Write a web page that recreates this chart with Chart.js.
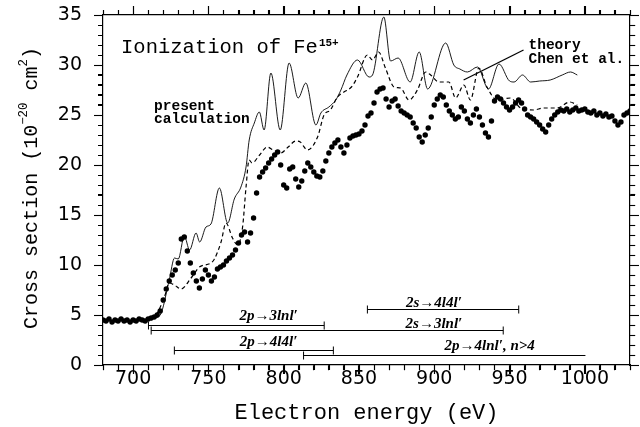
<!DOCTYPE html>
<html>
<head>
<meta charset="utf-8">
<title>Ionization of Fe15+</title>
<script src="https://cdn.jsdelivr.net/npm/chart.js"></script>
<style>
  body { margin: 0; background: #fff; }
  .wrap { width: 640px; height: 427px; position: relative; }
</style>
</head>
<body>
<div class="wrap"><canvas id="ion"></canvas></div>
<script>
// experiment (dots), every 2 eV
const expEnergy = [
  680,682,684,686,688,690,692,694,696,698,
  700,702,704,706,708,710,712,714,716,718,
  720,722,724,726,728,730,732,734,736,738,
  740,742,744,746,748,750,752,754,756,758,
  760,762,764,766,768,770,772,774,776,778,
  780,782,784,786,788,790,792,794,796,798,
  800,802,804,806,808,810,812,814,816,818,
  820,822,824,826,828,830,832,834,836,838,
  840,842,844,846,848,850,852,854,856,858,
  860,862,864,866,868,870,872,874,876,878,
  880,882,884,886,888,890,892,894,896,898,
  900,902,904,906,908,910,912,914,916,918,
  920,922,924,926,928,930,932,934,936,938,
  940,942,944,946,948,950,952,954,956,958,
  960,962,964,966,968,970,972,974,976,978,
  980,982,984,986,988,990,992,994,996,998,
  1000,1002,1004,1006,1008,1010,1012,1014,1016,1018,
  1020,1022,1024,1026,1028,1030
];
const expSigma = [
  4.5,4.4,4.6,4.3,4.5,4.4,4.6,4.4,4.5,4.3,
  4.5,4.4,4.6,4.5,4.4,4.6,4.7,4.8,5.0,5.4,
  6.5,7.6,8.4,9.0,9.5,10.2,12.6,12.8,11.4,10.2,
  9.2,8.4,7.7,8.6,9.5,9.0,8.4,8.8,9.6,9.8,
  10.0,10.4,10.7,11.0,11.5,12.2,13.0,13.3,12.3,13.2,
  14.7,17.2,18.8,19.3,19.7,20.2,20.6,21.0,21.3,20.0,
  18.0,17.7,19.6,19.8,18.6,17.8,18.4,19.4,20.2,19.8,
  19.3,18.9,18.8,19.4,20.4,21.2,21.8,22.2,22.5,21.8,
  21.2,22.0,22.7,22.9,23.0,23.1,23.4,24.0,24.9,25.2,
  26.2,27.3,27.6,27.7,26.6,25.8,26.4,26.6,25.9,25.4,
  25.2,25.0,24.8,24.2,23.7,22.8,22.3,23.0,23.7,24.8,
  26.0,26.6,27.0,26.8,26.0,25.4,25.0,24.6,24.8,25.8,
  25.4,24.6,24.2,25.0,25.6,24.8,24.0,23.2,22.8,24.4,
  26.4,26.8,26.6,26.2,25.8,25.5,25.8,26.2,26.5,26.2,
  25.6,25.0,24.8,24.6,24.3,24.0,23.6,23.3,24.0,24.6,
  25.0,25.3,25.5,25.4,25.6,25.3,25.5,25.7,25.4,25.5,
  25.6,25.3,25.2,25.4,25.0,25.2,24.9,25.1,24.8,24.9,
  24.4,24.0,24.3,25.0,25.2,25.4
];

// present calculation (solid)
const calcEnergy = [712,714,718,724,727.5,730,734,737.5,741.8,744.2,748.4,751.7,757.3,762.8,767.2,771.6,775,777.1,780.5,783.8,787,791.5,797.7,803.6,809.6,814.7,821.4,824.7,830,834.6,838,842,849,856.7,859,866.5,871,876,884,890,895.6,907.6,913,917,922,928.7,936,943,950,953,958.6,964,970,977,985,990.5,995];
const calcSigma  = [4.6,4.7,5.0,8.5,10.7,10.6,12.9,11.5,13.2,12.3,13.8,14.1,17.7,14.2,16.6,17.8,19.8,22.5,24.2,25.3,23.5,29.2,23.5,30.2,26.7,28.2,24.0,25.2,25.8,26.5,27.5,29.0,30.5,28.8,29.0,34.8,30.4,30.7,28.3,31.3,27.6,32.2,30.0,29.6,29.3,29.8,27.6,30.1,28.4,28.3,29.0,28.3,28.4,28.5,29.0,29.3,29.0];

// theory Chen et al. (dashed)
const chenEnergy = [712,716,720.8,724,727.4,731.8,738.5,744,751.7,754,758.4,761.7,766,769.4,772.7,775,777,779,784,789,793,798,803,808,811,815.8,822.5,826.8,831,835.7,840,845,849,855.6,859,863,867.8,873.3,877.7,883.2,888.8,894.3,897.6,903,909.7,914.2,919.7,924,929.6,935,941.8,950.7,957.3,966,972.7,981.6,990,995];
const chenSigma  = [4.5,5.2,6.8,8.2,8.0,7.6,8.7,9.8,10.2,10.6,12.3,14.2,12.7,12.0,13.8,17.8,20.5,20.2,21.0,21.8,21.5,21.2,21.8,22.4,22.3,21.5,22.8,25.0,25.5,26.8,27.3,27.8,28.8,31.0,30.5,31.3,29.6,27.8,27.7,26.5,27.5,29.3,29.0,28.3,28.3,26.7,28.0,26.5,29.7,27.8,26.5,26.7,25.7,25.5,25.7,25.7,26.3,26.0];

// threshold bands at the bottom
const bandNames = ['2p→3lnl′', '2s→3lnl′', '2s→4l4l′', '2p→4l4l′', '2p→4lnl′, n>4'];
const bandFrom  = [710.2, 712, 855.6, 727.4, 813.2];
const bandTo    = [826.9, 945.8, 956.1, 833, 1000.4];
const bandLevel = [4.0, 3.5, 5.6, 1.5, 1.0];
const bandTextE = [790, 899.8, 899.8, 790, 936.8];
const bandTextS = [4.5, 3.75, 5.8, 1.9, 1.5];
const bandEndMark = [true, true, true, true, false];

const xTicksMajor = 50, yTicksMajor = 5;

const pts = (xs, ys) => xs.map((v, i) => ({ x: v, y: ys[i] }));

// superscripted text, drawn left to right from (x, y)
function richText(ctx, parts, x, y, size, family) {
  let cx = x;
  parts.forEach(([t, sup]) => {
    ctx.font = (sup ? size * 0.62 : size) + 'px ' + family;
    ctx.fillText(t, cx, sup ? y - size * 0.42 : y);
    cx += ctx.measureText(t).width;
  });
  return cx - x;
}

// outward tick marks on all four sides, long on the labelled values
function drawTicks(chart) {
  const { ctx, chartArea: a, scales } = chart;
  ctx.save();
  ctx.setLineDash([]);
  ctx.strokeStyle = '#000';
  ctx.lineWidth = 1.1;
  ctx.beginPath();
  ['x', 'x2'].forEach(id => {
    const s = scales[id];
    const y0 = id === 'x' ? a.bottom : a.top;
    const dir = id === 'x' ? 1 : -1;
    s.ticks.forEach(t => {
      const len = t.value % xTicksMajor === 0 ? 9 : 5;
      const p = Math.round(s.getPixelForValue(t.value)) + 0.5;
      ctx.moveTo(p, y0); ctx.lineTo(p, y0 + dir * len);
    });
  });
  ['y', 'y2'].forEach(id => {
    const s = scales[id];
    const x0 = id === 'y' ? a.left : a.right;
    const dir = id === 'y' ? -1 : 1;
    s.ticks.forEach(t => {
      const len = t.value % yTicksMajor === 0 ? 9 : 5;
      const p = Math.round(s.getPixelForValue(t.value)) + 0.5;
      ctx.moveTo(x0, p); ctx.lineTo(x0 + dir * len, p);
    });
  });
  ctx.stroke();
  ctx.restore();
}

const annotate = {
  id: 'annotate',
  afterDatasetsDraw(chart) {
    const { ctx, scales: { x, y } } = chart;
    const px = v => x.getPixelForValue(v);
    const py = v => y.getPixelForValue(v);
    ctx.save();
    ctx.fillStyle = '#000';
    ctx.strokeStyle = '#000';
    ctx.textBaseline = 'alphabetic';

    // title
    ctx.textAlign = 'left';
    ctx.font = '20.5px "Liberation Mono", monospace';
    ctx.fillText('Ionization of Fe', px(692), py(31.2));
    const w = ctx.measureText('Ionization of Fe').width;
    ctx.font = 'bold 11px "Liberation Mono", monospace';
    ctx.fillText('15+', px(692) + w + 1, py(31.9));

    // curve labels
    ctx.font = 'bold 14.5px "Liberation Mono", monospace';
    ctx.fillText('present', px(713.9), py(25.5));
    ctx.fillText('calculation', px(713.9), py(24.2));
    ctx.fillText('theory', px(962.6), py(31.6));
    ctx.fillText('Chen et al.', px(962.6), py(30.2));
    ctx.lineWidth = 1.3;
    ctx.beginPath();
    ctx.moveTo(px(919.5), py(28.5));
    ctx.lineTo(px(959.3), py(31.5));
    ctx.stroke();

    // bands
    ctx.lineWidth = 1;
    ctx.textAlign = 'center';
    ctx.font = 'bold italic 15px "Liberation Serif", serif';
    bandNames.forEach((name, i) => {
      const yy = Math.round(py(bandLevel[i])) + 0.5;
      const x1 = px(bandFrom[i]), x2 = px(bandTo[i]);
      ctx.beginPath();
      ctx.moveTo(x1, yy); ctx.lineTo(x2, yy);
      ctx.moveTo(x1, yy - 4); ctx.lineTo(x1, yy + 4);
      if (bandEndMark[i]) { ctx.moveTo(x2, yy - 4); ctx.lineTo(x2, yy + 4); }
      ctx.stroke();
      ctx.fillText(name, px(bandTextE[i]), py(bandTextS[i]));
    });
    ctx.restore();
  },
  afterDraw(chart) {
    drawTicks(chart);

    // y axis title with real superscripts
    const { ctx, chartArea } = chart;
    const fam = '"Liberation Mono", monospace';
    const parts = [['Cross section (10', false], ['−20', true], [' cm', false], ['2', true], [')', false]];
    ctx.save();
    ctx.fillStyle = '#000';
    ctx.textAlign = 'left';
    ctx.textBaseline = 'middle';
    const probe = document.createElement('canvas').getContext('2d');
    const w = richText(probe, parts, 0, 0, 20, fam);
    ctx.translate(chart.scales.y.left + 25, (chartArea.top + chartArea.bottom) / 2 - 2);
    ctx.rotate(-Math.PI / 2);
    ctx.translate(0, 7);
    richText(ctx, parts, -w / 2, 0, 20, fam);
    ctx.restore();
  }
};

const isMajor = (c, step) => c.tick && Math.abs(c.tick.value % step) < 1e-6;
const tickFont = { family: "'DejaVu Sans', sans-serif", size: 19, lineHeight: 1 };
const axisBorder = { display: true, color: '#000', width: 1.2 };
const gridFor = (step, outerStart) => ({
  drawOnChartArea: false,
  drawTicks: true,
  tickLength: 9,
  tickColor: '#000',
  tickWidth: 1.1,
  tickBorderDash: c => isMajor(c, step) ? [] : (outerStart ? [0, 4, 5, 100] : [5, 100])
});

new Chart(document.getElementById('ion'), {
  type: 'scatter',
  data: {
    datasets: [
      {
        label: 'experiment',
        data: pts(expEnergy, expSigma),
        showLine: false,
        pointRadius: 2.7,
        pointBorderWidth: 0,
        pointBackgroundColor: '#000'
      },
      {
        label: 'present calculation',
        data: pts(calcEnergy, calcSigma),
        showLine: true,
        pointRadius: 0,
        borderColor: '#000',
        borderWidth: 0.9,
        cubicInterpolationMode: 'monotone'
      },
      {
        label: 'theory Chen et al.',
        data: pts(chenEnergy, chenSigma),
        showLine: true,
        pointRadius: 0,
        borderColor: '#000',
        borderWidth: 1.2,
        borderDash: [4, 3],
        cubicInterpolationMode: 'monotone'
      }
    ]
  },
  options: {
    responsive: true,
    maintainAspectRatio: false,
    animation: false,
    layout: { padding: 0 },
    plugins: { legend: { display: false }, tooltip: { enabled: false } },
    scales: {
      x: {
        type: 'linear', position: 'bottom', min: 680, max: 1030,
        afterFit: s => { s.height = 62; s.paddingLeft = 0; s.paddingRight = 0; },
        border: axisBorder,
        grid: gridFor(xTicksMajor, false),
        ticks: {
          stepSize: 10, autoSkip: false, maxRotation: 0, padding: -4,
          color: '#000', font: tickFont,
          callback: v => (v % xTicksMajor === 0 ? v : '')
        },
        title: {
          display: true, text: 'Electron energy (eV)', color: '#000',
          font: { family: "'Liberation Mono', monospace", size: 22, lineHeight: 1 },
          padding: { top: 0, bottom: 3 }
        }
      },
      x2: {
        type: 'linear', position: 'top', min: 680, max: 1030,
        afterFit: s => { s.height = 15; },
        border: axisBorder,
        grid: gridFor(xTicksMajor, true),
        ticks: { stepSize: 10, autoSkip: false, display: false }
      },
      y: {
        type: 'linear', position: 'left', min: 0, max: 35,
        afterFit: s => { s.width = 103; s.paddingTop = 0; s.paddingBottom = 0; },
        border: axisBorder,
        grid: gridFor(yTicksMajor, true),
        ticks: {
          stepSize: 1, autoSkip: false, padding: 12,
          color: '#000', font: tickFont,
          callback: v => (v % yTicksMajor === 0 ? v : '')
        }
      },
      y2: {
        type: 'linear', position: 'right', min: 0, max: 35,
        afterFit: s => { s.width = 10; },
        border: axisBorder,
        grid: gridFor(yTicksMajor, false),
        ticks: { stepSize: 1, autoSkip: false, display: false }
      }
    }
  },
  plugins: [annotate]
});
</script>
</body>
</html>
